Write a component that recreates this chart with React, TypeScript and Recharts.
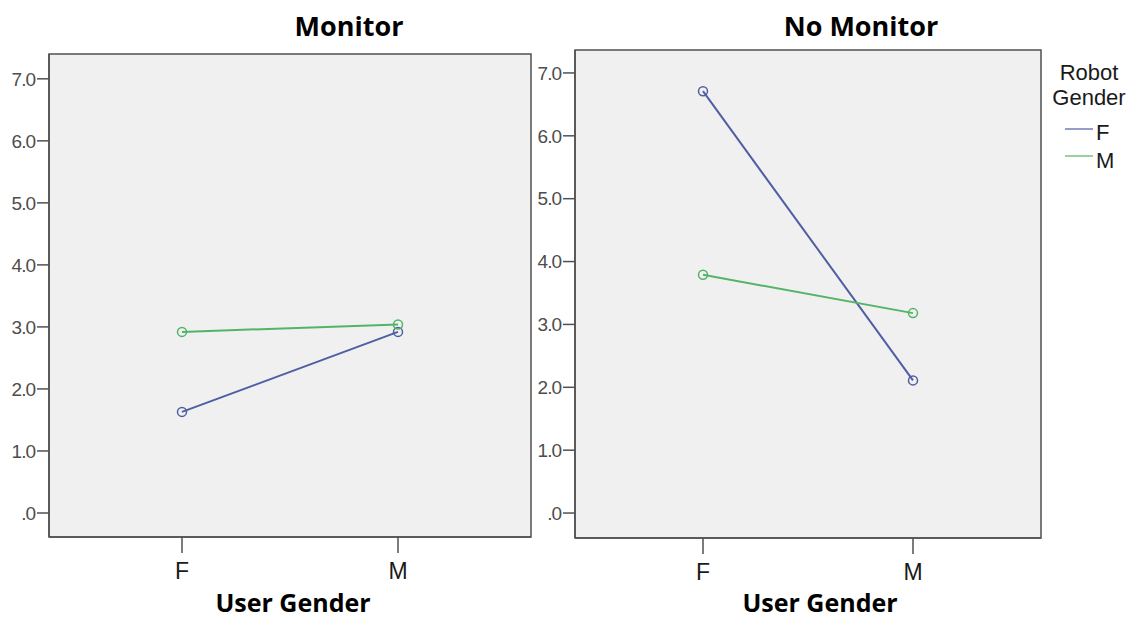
import React from 'react';
import { LineChart, Line, XAxis, YAxis, CartesianGrid } from 'recharts';

// Categories on the horizontal axis
const userGender = ['F', 'M'];

// Estimated marginal means, "Monitor" condition
const monitorRobotF = [1.63, 2.92];
const monitorRobotM = [2.92, 3.04];

// Estimated marginal means, "No Monitor" condition
const noMonitorRobotF = [6.71, 2.11];
const noMonitorRobotM = [3.79, 3.18];

// Value axis ticks
const yTicks = [0, 1, 2, 3, 4, 5, 6, 7];

// Legend entries
const robotGenders = ['F', 'M'];

const BLUE = '#4f5ea3';
const GREEN = '#52b466';
const FRAME = '#505050';
const PLOT_BG = '#f0f0f0';

const boldFont = "'Open Sans', 'Noto Sans', sans-serif";
const sansFont = "'Liberation Sans', Arial, sans-serif";

const buildRows = (f: number[], m: number[]) =>
  userGender.map((g, i) => ({ g, robotF: f[i], robotM: m[i] }));

const monitorData = buildRows(monitorRobotF, monitorRobotM);
const noMonitorData = buildRows(noMonitorRobotF, noMonitorRobotM);

const fmtY = (v: number) => (v === 0 ? '.0' : v.toFixed(1));

type PanelProps = {
  data: { g: string; robotF: number; robotM: number }[];
  left: number;
  width: number;
  marginTop: number;
  marginRight: number;
  marginBottom: number;
  pad: number;
  domain: [number, number];
};

function Panel({ data, left, width, marginTop, marginRight, marginBottom, pad, domain }: PanelProps) {
  return (
    <div style={{ position: 'absolute', left, top: 0 }}>
      <LineChart
        width={width}
        height={620}
        data={data}
        margin={{ top: marginTop, right: marginRight, bottom: marginBottom, left: 0 }}
      >
        <CartesianGrid horizontal={false} vertical={false} fill={PLOT_BG} stroke="none" />
        <XAxis
          dataKey="g"
          scale="point"
          padding={{ left: pad, right: pad }}
          height={50}
          tickSize={16}
          tickMargin={10}
          axisLine={{ stroke: FRAME, strokeWidth: 1.5 }}
          tickLine={{ stroke: FRAME, strokeWidth: 1.5 }}
          tick={{ fill: '#1a1a1a', fontSize: 23, fontFamily: sansFont }}
        />
        <YAxis
          type="number"
          domain={domain}
          allowDataOverflow
          ticks={yTicks}
          tickFormatter={fmtY}
          width={49}
          tickSize={12}
          tickMargin={2}
          axisLine={{ stroke: FRAME, strokeWidth: 1.5 }}
          tickLine={{ stroke: FRAME, strokeWidth: 1.5 }}
          tick={{ fill: '#4d4d4d', fontSize: 19, fontFamily: sansFont, letterSpacing: -1 }}
        />
        <Line
          dataKey="robotF"
          stroke={BLUE}
          strokeWidth={2}
          dot={{ r: 4.5, stroke: BLUE, strokeWidth: 1.5, fill: 'none' }}
          isAnimationActive={false}
        />
        <Line
          dataKey="robotM"
          stroke={GREEN}
          strokeWidth={2}
          dot={{ r: 4.5, stroke: GREEN, strokeWidth: 1.5, fill: 'none' }}
          isAnimationActive={false}
        />
      </LineChart>
    </div>
  );
}

export default function App() {
  const legendColors = [BLUE, GREEN];
  return (
    <div
      style={{
        position: 'absolute',
        left: 0,
        top: 0,
        width: 1138,
        height: 620,
        background: '#ffffff',
        overflow: 'hidden',
      }}
    >
      <Panel
        data={monitorData}
        left={0}
        width={560}
        marginTop={54}
        marginRight={29}
        marginBottom={33}
        pad={133}
        domain={[-0.387, 7.4]}
      />
      <Panel
        data={noMonitorData}
        left={526}
        width={612}
        marginTop={50}
        marginRight={97}
        marginBottom={32}
        pad={128}
        domain={[-0.397, 7.365]}
      />
      <svg
        width={1138}
        height={620}
        style={{ position: 'absolute', left: 0, top: 0, pointerEvents: 'none' }}
      >
        {/* plot frames */}
        <rect x={49} y={54} width={482} height={483} fill="none" stroke={FRAME} strokeWidth={1.5} />
        <rect x={575} y={50} width={466} height={488} fill="none" stroke={FRAME} strokeWidth={1.5} />
        <text x={349} y={36} textAnchor="middle" fontFamily={boldFont} fontWeight={700} fontSize={27} fill="#000">
          Monitor
        </text>
        <text x={861} y={36} textAnchor="middle" fontFamily={boldFont} fontWeight={700} fontSize={27} fill="#000">
          No Monitor
        </text>
        <text x={293} y={612} textAnchor="middle" fontFamily={boldFont} fontWeight={700} fontSize={25} fill="#000">
          User Gender
        </text>
        <text x={820} y={612} textAnchor="middle" fontFamily={boldFont} fontWeight={700} fontSize={25} fill="#000">
          User Gender
        </text>
        <text x={1089} y={80} textAnchor="middle" fontFamily={sansFont} fontSize={22} fill="#1a1a1a">
          Robot
        </text>
        <text x={1089} y={105} textAnchor="middle" fontFamily={sansFont} fontSize={22} fill="#1a1a1a">
          Gender
        </text>
        {robotGenders.map((label, i) => (
          <g key={label}>
            <line
              x1={1065}
              x2={1093}
              y1={129 + i * 27}
              y2={129 + i * 27}
              stroke={legendColors[i]}
              strokeWidth={1.6}
              opacity={0.75}
            />
            <text x={1096} y={140 + i * 28} fontFamily={sansFont} fontSize={22} fill="#1a1a1a">
              {label}
            </text>
          </g>
        ))}
      </svg>
    </div>
  );
}
